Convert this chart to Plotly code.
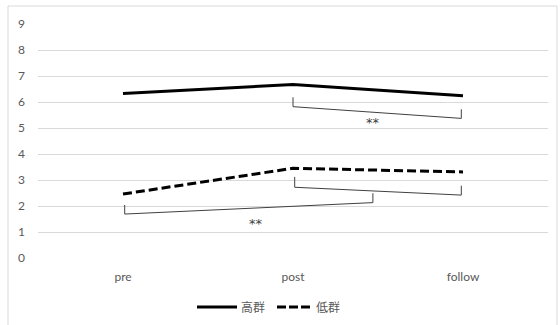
import plotly.graph_objects as go

categories = ["pre", "post", "follow"]
high_group = [6.33, 6.67, 6.24]
low_group = [2.46, 3.45, 3.31]
series_names = ["高群", "低群"]
y_ticks = list(range(0, 10))

# significance brackets: (x_left, x_right, y_left_top, y_left_bottom, y_right_bottom, y_right_top)
brackets = [
    (1.0, 1.99, 6.18, 5.82, 5.37, 5.72),
    (1.01, 1.99, 3.12, 2.72, 2.42, 2.78),
    (0.01, 1.47, 2.04, 1.69, 2.13, 2.49),
]
stars = [(1.47, 5.2, "**"), (0.78, 1.31, "**")]

FONT = "Lato, 'Noto Sans CJK JP', sans-serif"
TXT = "#595959"
xs = list(range(len(categories)))

# plot area geometry in pixels (used for paper-coord conversions of decorations)
L, R, T, B, W, H = 38, 12, 24, 67, 560, 325
PW, PH = W - L - R, H - T - B


def px(xp):
    return (xp - L) / PW


def py(yp):
    return (H - B - yp) / PH


fig = go.Figure()
fig.add_trace(go.Scatter(x=xs, y=high_group, name=series_names[0], mode="lines",
                         line=dict(color="black", width=3), showlegend=False))
fig.add_trace(go.Scatter(x=xs, y=low_group, name=series_names[1], mode="lines",
                         line=dict(color="black", width=3, dash="9px,4px"), showlegend=False))

for xl, xr, ylt, ylb, yrb, yrt in brackets:
    fig.add_trace(go.Scatter(x=[xl, xl, xr, xr], y=[ylt, ylb, yrb, yrt], mode="lines",
                             line=dict(color="#404040", width=1), showlegend=False,
                             hoverinfo="skip"))

for sx, sy, st in stars:
    fig.add_annotation(x=sx, y=sy, text=st, showarrow=False,
                       font=dict(size=13, color="#404040", family="DejaVu Sans"))

# chart area border
fig.add_shape(type="rect", xref="paper", yref="paper",
              x0=px(8), x1=px(557), y0=py(330), y1=py(6),
              line=dict(color="#d9d9d9", width=1), layer="below")

# legend (drawn manually to match the sample lengths)
legend_items = [
    (197, 237, 239, "solid", series_names[0]),
    (277, 310, 314, "9px,3px", series_names[1]),
]
for x0, x1, xt, dash, label in legend_items:
    fig.add_shape(type="line", xref="paper", yref="paper",
                  x0=px(x0), x1=px(x1), y0=py(307), y1=py(307),
                  line=dict(color="black", width=3, dash=dash))
    fig.add_annotation(xref="paper", yref="paper", x=px(xt), y=py(307),
                       xanchor="left", yanchor="middle", text=label, showarrow=False,
                       font=dict(size=12, color=TXT, family=FONT))

fig.update_layout(
    width=W, height=H,
    margin=dict(l=L, r=R, t=T, b=B, autoexpand=False),
    paper_bgcolor="white", plot_bgcolor="white",
    font=dict(family=FONT, size=11, color=TXT),
    showlegend=False,
    xaxis=dict(range=[-0.5, 2.5], tickvals=xs, ticktext=categories, showgrid=False,
               zeroline=False, showline=False, ticks="", ticklabelstandoff=10,
               tickfont=dict(size=12, color=TXT, family=FONT),
               automargin=False, fixedrange=True),
    yaxis=dict(range=[0, 9], tickvals=y_ticks, showgrid=True, gridcolor="#d9d9d9",
               gridwidth=1, zeroline=False, showline=False, ticks="",
               ticklabelstandoff=12, tickfont=dict(size=12, color=TXT, family=FONT),
               automargin=False, fixedrange=True),
)

fig.write_html("out.html", config={"displayModeBar": False},
               post_script="document.body.style.margin='0';document.body.style.overflow='hidden';")
